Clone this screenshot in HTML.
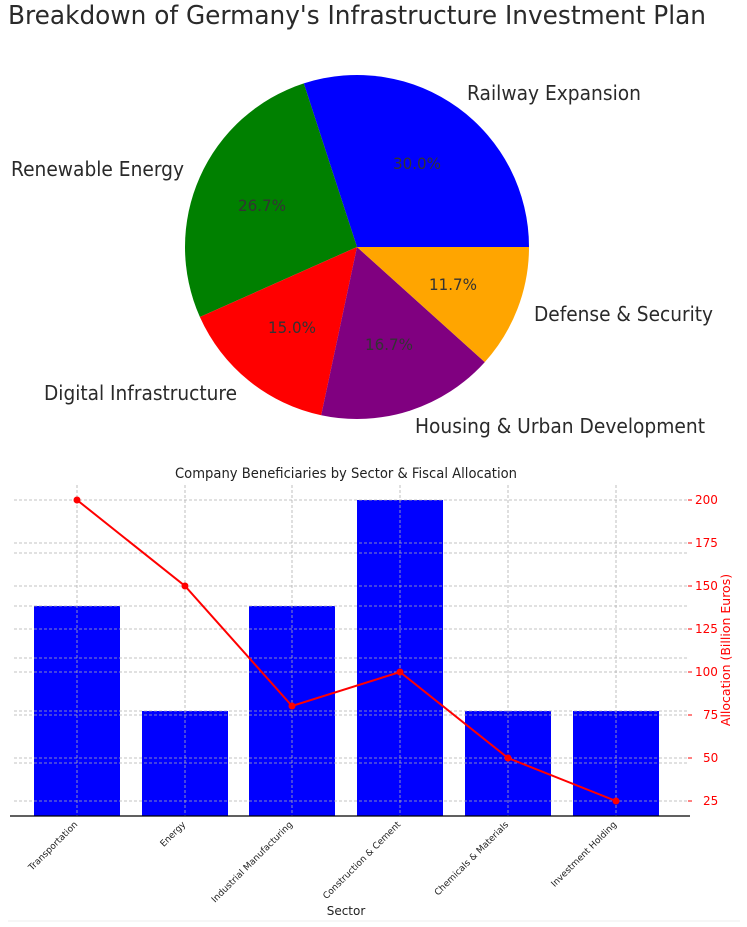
<!DOCTYPE html>
<html><head><meta charset="utf-8"><style>body{margin:0;background:#fff}svg{display:block}</style></head>
<body>
<svg width="747" height="927" viewBox="0 0 747 927" xmlns="http://www.w3.org/2000/svg" font-family="DejaVu Sans, Liberation Sans, sans-serif">
<rect width="747" height="927" fill="#fff"/>
<text x="8" y="24" font-size="26" fill="#2a2a2a" textLength="698" lengthAdjust="spacingAndGlyphs">Breakdown of Germany's Infrastructure Investment Plan</text>
<path d="M357,247 L529,247 A172,172 0 0 0 303.8,83.4 Z" fill="#0000ff"/>
<path d="M357,247 L303.8,83.4 A172,172 0 0 0 199.9,317 Z" fill="#008000"/>
<path d="M357,247 L199.9,317 A172,172 0 0 0 321.2,415.2 Z" fill="#ff0000"/>
<path d="M357,247 L321.2,415.2 A172,172 0 0 0 484.8,362.1 Z" fill="#800080"/>
<path d="M357,247 L484.8,362.1 A172,172 0 0 0 529,247 Z" fill="#ffa500"/>
<g font-size="16" fill="#333" text-anchor="middle">
<text x="417" y="169" textLength="48" lengthAdjust="spacingAndGlyphs">30.0%</text>
<text x="262" y="211" textLength="48" lengthAdjust="spacingAndGlyphs">26.7%</text>
<text x="292" y="333" textLength="48" lengthAdjust="spacingAndGlyphs">15.0%</text>
<text x="389" y="350" textLength="48" lengthAdjust="spacingAndGlyphs">16.7%</text>
<text x="453" y="290" textLength="48" lengthAdjust="spacingAndGlyphs">11.7%</text>
</g>
<g font-size="20" fill="#2a2a2a">
<text x="467" y="100" textLength="174" lengthAdjust="spacingAndGlyphs">Railway Expansion</text>
<text x="11" y="176" textLength="173" lengthAdjust="spacingAndGlyphs">Renewable Energy</text>
<text x="44" y="400" textLength="193" lengthAdjust="spacingAndGlyphs">Digital Infrastructure</text>
<text x="415" y="433" textLength="290" lengthAdjust="spacingAndGlyphs">Housing &amp; Urban Development</text>
<text x="534" y="321" textLength="179" lengthAdjust="spacingAndGlyphs">Defense &amp; Security</text>
</g>
<text x="346" y="478" font-size="14" fill="#222" text-anchor="middle" textLength="342" lengthAdjust="spacingAndGlyphs">Company Beneficiaries by Sector &amp; Fiscal Allocation</text>
<g fill="#0000ff">
<rect x="34" y="606" width="86" height="210"/>
<rect x="142" y="711" width="86" height="105"/>
<rect x="249" y="606" width="86" height="210"/>
<rect x="357" y="500" width="86" height="316"/>
<rect x="465" y="711" width="86" height="105"/>
<rect x="573" y="711" width="86" height="105"/>
</g>
<g stroke="#b0b0b0" stroke-width="0.8" stroke-dasharray="3,2" fill="none">
<path d="M14,500H688M14,543H688M14,553H688M14,586H688M14,606H688M14,629H688M14,658H688M14,672H688M14,711H688M14,715H688M14,758H688M14,763H688M14,801H688"/>
<path d="M77,485V816M185,485V816M292,485V816M400,485V816M508,485V816M616,485V816"/>
</g>
<line x1="10" y1="816" x2="690" y2="816" stroke="#000" stroke-width="1.3"/>
<polyline points="77,500 185,586 292,706 400,672 508,758 616,801" fill="none" stroke="#ff0000" stroke-width="2"/>
<g fill="#ff0000"><circle cx="77" cy="500" r="3.5"/><circle cx="185" cy="586" r="3.5"/><circle cx="292" cy="706" r="3.5"/><circle cx="400" cy="672" r="3.5"/><circle cx="508" cy="758" r="3.5"/><circle cx="616" cy="801" r="3.5"/></g>
<g stroke="#ff0000" stroke-width="1"><path d="M688,500h4M688,543h4M688,586h4M688,629h4M688,672h4M688,715h4M688,758h4M688,801h4"/></g>
<g font-size="12" fill="#ff0000">
<text x="695" y="504">200</text><text x="695" y="547">175</text><text x="695" y="590">150</text><text x="695" y="633">125</text><text x="695" y="676">100</text><text x="703" y="719">75</text><text x="703" y="762">50</text><text x="703" y="805">25</text>
</g>
<text transform="translate(730,650) rotate(-90)" font-size="12.5" fill="#ff0000" text-anchor="middle">Allocation (Billion Euros)</text>
<g font-size="9" fill="#222" text-anchor="end">
<text transform="translate(78,825) rotate(-45)">Transportation</text>
<text transform="translate(186,825) rotate(-45)">Energy</text>
<text transform="translate(293,825) rotate(-45)">Industrial Manufacturing</text>
<text transform="translate(401,825) rotate(-45)">Construction &amp; Cement</text>
<text transform="translate(509,825) rotate(-45)">Chemicals &amp; Materials</text>
<text transform="translate(617,825) rotate(-45)">Investment Holding</text>
</g>
<text x="346" y="915" font-size="12" fill="#222" text-anchor="middle">Sector</text>
<line x1="8" y1="921" x2="740" y2="921" stroke="#eee"/>
</svg>
</body></html>
